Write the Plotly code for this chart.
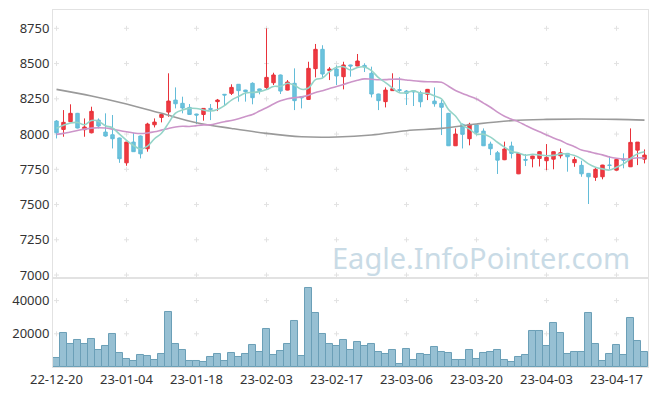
import plotly.graph_objects as go
from plotly.subplots import make_subplots
import pandas as pd

dates = [
    "2022-12-20", "2022-12-21", "2022-12-22", "2022-12-23", "2022-12-26", "2022-12-27", "2022-12-28", "2022-12-29",
    "2023-01-02", "2023-01-03", "2023-01-04", "2023-01-05", "2023-01-06", "2023-01-09", "2023-01-10", "2023-01-11",
    "2023-01-12", "2023-01-13", "2023-01-16", "2023-01-17", "2023-01-18", "2023-01-19", "2023-01-20", "2023-01-25",
    "2023-01-26", "2023-01-27", "2023-01-30", "2023-01-31", "2023-02-01", "2023-02-02", "2023-02-03", "2023-02-06",
    "2023-02-07", "2023-02-08", "2023-02-09", "2023-02-10", "2023-02-13", "2023-02-14", "2023-02-15", "2023-02-16",
    "2023-02-17", "2023-02-20", "2023-02-21", "2023-02-22", "2023-02-23", "2023-02-24", "2023-02-27", "2023-02-28",
    "2023-03-02", "2023-03-03", "2023-03-06", "2023-03-07", "2023-03-08", "2023-03-09", "2023-03-10", "2023-03-13",
    "2023-03-14", "2023-03-15", "2023-03-16", "2023-03-17", "2023-03-20", "2023-03-21", "2023-03-22", "2023-03-23",
    "2023-03-24", "2023-03-27", "2023-03-28", "2023-03-29", "2023-03-30", "2023-03-31", "2023-04-03", "2023-04-04",
    "2023-04-05", "2023-04-06", "2023-04-07", "2023-04-10", "2023-04-11", "2023-04-12", "2023-04-13", "2023-04-14",
    "2023-04-17", "2023-04-18", "2023-04-19", "2023-04-20", "2023-04-21",
]

opens = [8092, 8033, 8088, 8147, 8031, 8009, 8099, 8014, 7995, 7972,
         7796, 7943, 7986, 7896, 8066, 8118, 8156, 8241, 8218, 8189,
         8142, 8139, 8182, 8230, 8282, 8289, 8353, 8312, 8360, 8320,
         8331, 8364, 8419, 8312, 8360, 8265, 8246, 8464, 8601, 8450,
         8461, 8407, 8490, 8483, 8487, 8431, 8284, 8230, 8308, 8315,
         8305, 8307, 8293, 8282, 8234, 8218, 8147, 7917, 8069, 7967,
         8064, 8021, 7929, 7867, 7818, 7915, 7718, 7820, 7825, 7827,
         7811, 7822, 7846, 7863, 7797, 7778, 7721, 7693, 7697, 7780,
         7744, 7822, 7768, 7886, 7822]
highs = [8099, 8170, 8211, 8150, 8111, 8194, 8111, 8147, 8135, 7975,
         7945, 8009, 7990, 8080, 8111, 8147, 8431, 8331, 8265, 8213,
         8144, 8184, 8213, 8249, 8284, 8353, 8355, 8314, 8367, 8322,
         8750, 8435, 8422, 8383, 8466, 8267, 8513, 8639, 8630, 8475,
         8487, 8513, 8492, 8568, 8502, 8478, 8286, 8331, 8431, 8403,
         8312, 8310, 8307, 8320, 8331, 8241, 8150, 8040, 8075, 8080,
         8066, 8040, 7946, 7880, 7946, 7946, 7867, 7858, 7846, 7880,
         7929, 7877, 7898, 7866, 7838, 7811, 7724, 7760, 7782, 7844,
         7822, 7863, 8040, 7943, 7891]
lows = [7969, 7981, 8085, 8040, 7981, 8005, 8040, 7981, 7898, 7796,
        7775, 7873, 7827, 7875, 8047, 8083, 8123, 8182, 8147, 8137,
        8071, 8095, 8099, 8163, 8206, 8277, 8230, 8230, 8211, 8282,
        8317, 8348, 8284, 8310, 8170, 8182, 8244, 8402, 8402, 8383,
        8348, 8317, 8407, 8481, 8440, 8260, 8170, 8189, 8306, 8300,
        8206, 8199, 8190, 8241, 8194, 7993, 7915, 7915, 7898, 7920,
        7990, 7915, 7851, 7717, 7815, 7827, 7716, 7773, 7764, 7770,
        7744, 7750, 7827, 7733, 7768, 7697, 7504, 7668, 7679, 7750,
        7742, 7757, 7766, 7780, 7792]
closes = [8009, 8083, 8147, 8043, 8050, 8161, 8057, 7986, 7967, 7825,
          7943, 7875, 7860, 8071, 8085, 8139, 8234, 8215, 8185, 8139,
          8135, 8182, 8175, 8241, 8277, 8331, 8308, 8301, 8258, 8308,
          8402, 8419, 8305, 8369, 8237, 8258, 8466, 8601, 8426, 8461,
          8412, 8490, 8483, 8518, 8476, 8284, 8237, 8312, 8322, 8310,
          8289, 8300, 8229, 8317, 8215, 8190, 7917, 8000, 7998, 8069,
          8012, 7917, 7896, 7815, 7894, 7863, 7863, 7815, 7844, 7875,
          7835, 7875, 7867, 7839, 7820, 7718, 7697, 7750, 7780, 7778,
          7820, 7815, 7941, 7943, 7851]
volumes = [5240, 20390, 13980, 16310, 13980, 16900, 10100, 12820, 19810, 8160,
           4660, 3500, 6990, 6410, 4080, 7570, 33210, 13590, 10100, 3500,
           3500, 2910, 5830, 7570, 3500, 8160, 5830, 7570, 13400, 8740,
           22720, 6990, 9900, 13980, 27960, 6410, 47380, 32630, 19810, 13980,
           12820, 16310, 10490, 15150, 12820, 13980, 8740, 7570, 10490, 1750,
           11070, 4080, 7570, 6990, 12230, 9320, 8160, 4080, 4080, 10490,
           4660, 8160, 9320, 10490, 4080, 2910, 5830, 6990, 21560, 21560,
           12820, 26800, 20390, 7570, 8740, 8740, 32630, 13980, 3500, 7570,
           13400, 6990, 29710, 15730, 9320]

ma5_head = [8042, 8062, 8078, 8082]
ma20_head = [7998, 8005, 8015, 8025, 8035, 8042, 8045, 8043, 8035, 8025,
             8016, 8008, 8004, 8008, 8016, 8028, 8040, 8050, 8055]
ma60_idx = [0, 5, 10, 15, 20, 25, 30, 35, 40, 45, 50, 55, 60, 65, 70, 75, 80, 84]
ma60_vals = [8317, 8270, 8213, 8147, 8080, 8040, 8005, 7981, 7979, 7993,
             8024, 8040, 8071, 8095, 8104, 8107, 8104, 8099]

price_ticks = [7000, 7250, 7500, 7750, 8000, 8250, 8500, 8750]
vol_ticks = [20000, 40000]
x_tick_step = 10

x = list(range(len(dates)))
cs = pd.Series(closes, dtype=float)
ma5 = cs.rolling(5).mean().tolist()
ma5[:len(ma5_head)] = ma5_head
ma20 = cs.rolling(20).mean().tolist()
ma20[:len(ma20_head)] = ma20_head

tickvals = x[::x_tick_step]
ticktext = [d[2:] for d in dates[::x_tick_step]]

fig = make_subplots(rows=2, cols=1, shared_xaxes=True, vertical_spacing=0,
                    row_heights=[0.7507, 0.2493])

# faint "+" marks at the tick intersections, drawn beneath the data
grid_c = "#e2e2e2"
half = 2.5
for xr, yr, levels in (("x", "y", price_ticks), ("x2", "y2", vol_ticks)):
    for tv in tickvals:
        for lv in levels:
            fig.add_shape(type="line", xref=xr, yref=yr, layer="below",
                          xsizemode="pixel", xanchor=tv, x0=-half, x1=half, y0=lv, y1=lv,
                          line=dict(color=grid_c, width=1))
            fig.add_shape(type="line", xref=xr, yref=yr, layer="below",
                          ysizemode="pixel", yanchor=lv, y0=-half, y1=half, x0=tv, x1=tv,
                          line=dict(color=grid_c, width=1))

fig.add_trace(go.Scatter(x=ma60_idx, y=ma60_vals, mode="lines", line=dict(color="#9a9a9a", width=1.6, shape="spline"),
                         showlegend=False, hoverinfo="skip"), row=1, col=1)
fig.add_trace(go.Scatter(x=x, y=ma20, mode="lines", line=dict(color="#cc95c9", width=1.6, shape="spline"),
                         showlegend=False, hoverinfo="skip"), row=1, col=1)
fig.add_trace(go.Scatter(x=x, y=ma5, mode="lines", line=dict(color="#95d4c8", width=1.6, shape="spline"),
                         showlegend=False, hoverinfo="skip"), row=1, col=1)

fig.add_trace(go.Candlestick(
    x=x, open=opens, high=highs, low=lows, close=closes,
    increasing=dict(line=dict(color="#e8323a", width=1), fillcolor="#ee3a42"),
    decreasing=dict(line=dict(color="#63bcd8", width=1), fillcolor="#6cc3dd"),
    whiskerwidth=0, showlegend=False), row=1, col=1)

fig.add_trace(go.Bar(x=x, y=volumes, marker=dict(color="#97c0d3", line=dict(color="#6b9fb7", width=1)),
                     width=1.0, showlegend=False), row=2, col=1)

axis_c = "#e2e2e2"
tick_font = dict(family="Noto Sans", size=13, color="#333333")
fig.update_xaxes(range=[-0.5, len(dates) - 0.5], showgrid=False, zeroline=False,
                 showline=True, linecolor=axis_c, mirror=True, ticks="", automargin=False,
                 tickvals=tickvals, ticktext=ticktext, tickfont=tick_font,
                 rangeslider=dict(visible=False))
fig.update_xaxes(showticklabels=False, row=1, col=1)
fig.update_yaxes(range=[6979, 8880], tickvals=price_ticks, ticktext=[str(v) for v in price_ticks],
                 showgrid=False, zeroline=False, automargin=False,
                 showline=True, linecolor=axis_c, mirror=True, ticks="", tickfont=tick_font,
                 row=1, col=1)
fig.update_yaxes(range=[0, 53600], tickvals=vol_ticks, ticktext=[str(v) for v in vol_ticks],
                 showgrid=False, zeroline=False, automargin=False,
                 showline=True, linecolor=axis_c, mirror=True, ticks="", tickfont=tick_font,
                 row=2, col=1)

fig.add_annotation(text="Eagle.InfoPointer.com", xref="paper", yref="paper", x=0.719, y=0.308,
                   xanchor="center", yanchor="middle", showarrow=False,
                   font=dict(family="Noto Sans", size=29, color="#c9dbe6"))

fig.update_layout(width=657, height=396, margin=dict(l=53, r=9, t=10, b=29, autoexpand=False),
                  paper_bgcolor="white", plot_bgcolor="white", bargap=0, showlegend=False)

fig.write_html("out.html", config={"displayModeBar": False},
               post_script="document.body.style.margin='0';document.body.style.overflow='hidden';")
